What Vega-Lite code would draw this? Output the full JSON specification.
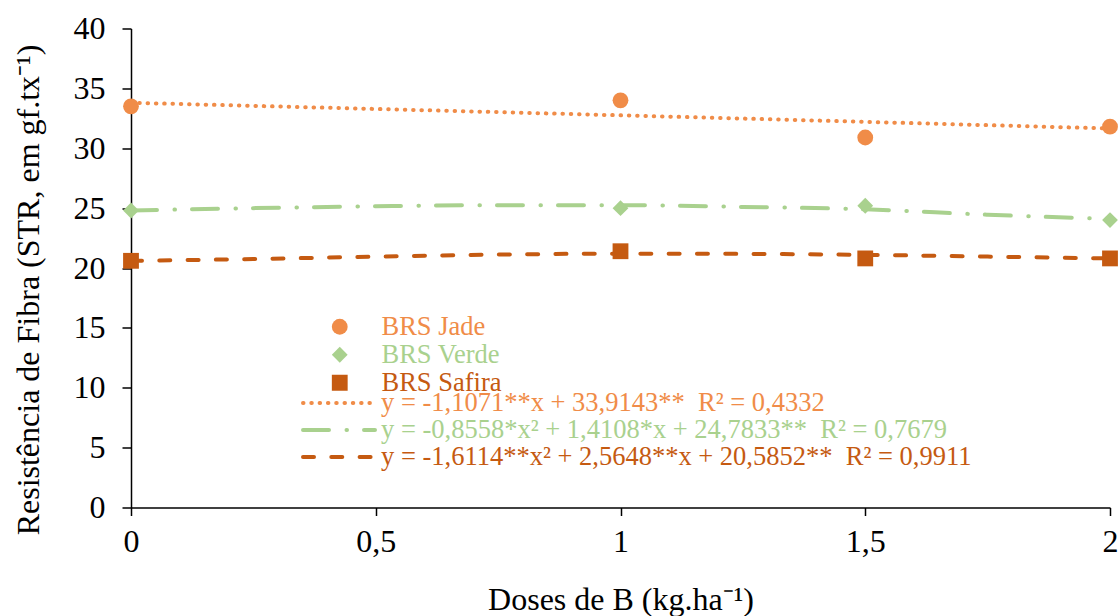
{
  "$schema": "https://vega.github.io/schema/vega-lite/v6.json",
  "width": 979,
  "height": 479,
  "autosize": "none",
  "padding": {"left": 131, "top": 28.5, "right": 10, "bottom": 108.5},
  "background": "white",
  "config": {
    "view": {"stroke": null},
    "font": "Liberation Serif",
    "axis": {
      "labelColor": "black",
      "titleColor": "black",
      "titleFontWeight": "normal",
      "domainColor": "black",
      "tickColor": "black",
      "domainWidth": 1.5,
      "tickWidth": 1.5,
      "grid": false
    },
    "legend": {
      "labelFont": "Liberation Serif",
      "labelFontSize": 26.5,
      "labelLimit": 1000
    }
  },
  "datasets": {
    "pts": [
      {"dose": 0, "str": 33.5, "cultivar": "BRS Jade"},
      {"dose": 1, "str": 34.0, "cultivar": "BRS Jade"},
      {"dose": 1.5, "str": 30.9, "cultivar": "BRS Jade"},
      {"dose": 2, "str": 31.8, "cultivar": "BRS Jade"},
      {"dose": 0, "str": 24.8, "cultivar": "BRS Verde"},
      {"dose": 1, "str": 25.0, "cultivar": "BRS Verde"},
      {"dose": 1.5, "str": 25.2, "cultivar": "BRS Verde"},
      {"dose": 2, "str": 24.0, "cultivar": "BRS Verde"},
      {"dose": 0, "str": 20.6, "cultivar": "BRS Safira"},
      {"dose": 1, "str": 21.4, "cultivar": "BRS Safira"},
      {"dose": 1.5, "str": 20.8, "cultivar": "BRS Safira"},
      {"dose": 2, "str": 20.8, "cultivar": "BRS Safira"}
    ],
    "fit": [
      {"dose": 0, "str": 33.8, "eq": "y = -1,1071**x + 33,9143** \u00a0R² = 0,4332"},
      {"dose": 1, "str": 32.75, "eq": "y = -1,1071**x + 33,9143** \u00a0R² = 0,4332"},
      {"dose": 2, "str": 31.65, "eq": "y = -1,1071**x + 33,9143** \u00a0R² = 0,4332"},
      {"dose": 0, "str": 24.8, "eq": "y = -0,8558*x² + 1,4108*x + 24,7833** \u00a0R² = 0,7679"},
      {"dose": 0.25, "str": 25.0, "eq": "y = -0,8558*x² + 1,4108*x + 24,7833** \u00a0R² = 0,7679"},
      {"dose": 0.5, "str": 25.15, "eq": "y = -0,8558*x² + 1,4108*x + 24,7833** \u00a0R² = 0,7679"},
      {"dose": 0.75, "str": 25.25, "eq": "y = -0,8558*x² + 1,4108*x + 24,7833** \u00a0R² = 0,7679"},
      {"dose": 1, "str": 25.25, "eq": "y = -0,8558*x² + 1,4108*x + 24,7833** \u00a0R² = 0,7679"},
      {"dose": 1.25, "str": 25.1, "eq": "y = -0,8558*x² + 1,4108*x + 24,7833** \u00a0R² = 0,7679"},
      {"dose": 1.5, "str": 24.9, "eq": "y = -0,8558*x² + 1,4108*x + 24,7833** \u00a0R² = 0,7679"},
      {"dose": 1.75, "str": 24.45, "eq": "y = -0,8558*x² + 1,4108*x + 24,7833** \u00a0R² = 0,7679"},
      {"dose": 2, "str": 24.1, "eq": "y = -0,8558*x² + 1,4108*x + 24,7833** \u00a0R² = 0,7679"},
      {"dose": 0, "str": 20.6, "eq": "y = -1,6114**x² + 2,5648**x + 20,5852** \u00a0R² = 0,9911"},
      {"dose": 0.25, "str": 20.75, "eq": "y = -1,6114**x² + 2,5648**x + 20,5852** \u00a0R² = 0,9911"},
      {"dose": 0.5, "str": 20.95, "eq": "y = -1,6114**x² + 2,5648**x + 20,5852** \u00a0R² = 0,9911"},
      {"dose": 0.75, "str": 21.12, "eq": "y = -1,6114**x² + 2,5648**x + 20,5852** \u00a0R² = 0,9911"},
      {"dose": 1, "str": 21.2, "eq": "y = -1,6114**x² + 2,5648**x + 20,5852** \u00a0R² = 0,9911"},
      {"dose": 1.25, "str": 21.18, "eq": "y = -1,6114**x² + 2,5648**x + 20,5852** \u00a0R² = 0,9911"},
      {"dose": 1.5, "str": 21.1, "eq": "y = -1,6114**x² + 2,5648**x + 20,5852** \u00a0R² = 0,9911"},
      {"dose": 1.75, "str": 20.95, "eq": "y = -1,6114**x² + 2,5648**x + 20,5852** \u00a0R² = 0,9911"},
      {"dose": 2, "str": 20.8, "eq": "y = -1,6114**x² + 2,5648**x + 20,5852** \u00a0R² = 0,9911"}
    ]
  },
  "encoding": {
    "x": {
      "field": "dose",
      "type": "quantitative",
      "scale": {"domain": [0, 2], "nice": false},
      "axis": {
        "values": [0, 0.5, 1, 1.5, 2],
        "title": "Doses de B (kg.ha⁻¹)",
        "labelExpr": "replace(format(datum.value, '~g'), '.', ',')",
        "labelFont": "Liberation Serif",
        "titleFont": "Liberation Serif",
        "labelFontSize": 32,
        "titleFontSize": 32,
        "tickSize": 8,
        "labelPadding": 11,
        "titlePadding": 27,
        "labelFlush": false
      }
    },
    "y": {
      "field": "str",
      "type": "quantitative",
      "scale": {"domain": [0, 40], "nice": false},
      "axis": {
        "values": [0, 5, 10, 15, 20, 25, 30, 35, 40],
        "title": "Resistência de Fibra (STR, em gf.tx⁻¹)",
        "labelFont": "Liberation Serif",
        "titleFont": "Liberation Serif",
        "labelFontSize": 32,
        "titleFontSize": 32,
        "tickSize": 9,
        "labelPadding": 17,
        "titlePadding": 28,
        "titleY": 261
      }
    }
  },
  "layer": [
    {
      "data": {"name": "fit"},
      "mark": {"type": "line", "interpolate": "monotone", "strokeWidth": 4, "strokeCap": "round"},
      "encoding": {
        "stroke": {
          "field": "eq",
          "type": "nominal",
          "scale": {
            "domain": [
              "y = -1,1071**x + 33,9143** \u00a0R² = 0,4332",
              "y = -0,8558*x² + 1,4108*x + 24,7833** \u00a0R² = 0,7679",
              "y = -1,6114**x² + 2,5648**x + 20,5852** \u00a0R² = 0,9911"
            ],
            "range": ["#F08C48", "#A9D18E", "#C55A11"]
          },
          "legend": {
            "orient": "none",
            "legendX": 170,
            "legendY": 361.5,
            "title": null,
            "padding": 0,
            "rowPadding": 0,
            "clipHeight": 26,
            "symbolType": "stroke",
            "symbolSize": 5184,
            "symbolStrokeWidth": 4,
            "labelOffset": 4,
            "encode": {
              "labels": {"update": {"fill": {"scale": "stroke", "field": "value"}}},
              "symbols": {"update": {"strokeCap": {"value": "round"}}}
            }
          }
        },
        "strokeDash": {
          "field": "eq",
          "type": "nominal",
          "scale": {
            "domain": [
              "y = -1,1071**x + 33,9143** \u00a0R² = 0,4332",
              "y = -0,8558*x² + 1,4108*x + 24,7833** \u00a0R² = 0,7679",
              "y = -1,6114**x² + 2,5648**x + 20,5852** \u00a0R² = 0,9911"
            ],
            "range": [[0.5, 7.8], [26, 17.5, 0.5, 17], [11, 17.3]]
          },
          "legend": {
            "orient": "none",
            "legendX": 170,
            "legendY": 361.5,
            "title": null,
            "padding": 0,
            "rowPadding": 0,
            "clipHeight": 26,
            "symbolType": "stroke",
            "symbolSize": 5184,
            "symbolStrokeWidth": 4,
            "labelOffset": 4,
            "encode": {
              "labels": {"update": {"fill": {"scale": "stroke", "field": "value"}}},
              "symbols": {"update": {"strokeCap": {"value": "round"}}}
            }
          }
        }
      }
    },
    {
      "data": {"name": "pts"},
      "mark": {"type": "point", "filled": true, "opacity": 1, "size": 250},
      "encoding": {
        "color": {
          "field": "cultivar",
          "type": "nominal",
          "scale": {"domain": ["BRS Jade", "BRS Verde", "BRS Safira"], "range": ["#F08C48", "#A9D18E", "#C55A11"]},
          "legend": {
            "orient": "none",
            "legendX": 195.5,
            "legendY": 285.5,
            "title": null,
            "padding": 0,
            "rowPadding": 0,
            "clipHeight": 25.5,
            "symbolSize": 250,
            "symbolStrokeWidth": 0,
            "symbolOpacity": 1,
            "labelOffset": 28.5,
            "encode": {"labels": {"update": {"fill": {"scale": "color", "field": "value"}}}}
          }
        },
        "shape": {
          "field": "cultivar",
          "type": "nominal",
          "scale": {"domain": ["BRS Jade", "BRS Verde", "BRS Safira"], "range": ["circle", "diamond", "square"]},
          "legend": {
            "orient": "none",
            "legendX": 195.5,
            "legendY": 285.5,
            "title": null,
            "padding": 0,
            "rowPadding": 0,
            "clipHeight": 25.5,
            "symbolSize": 250,
            "symbolStrokeWidth": 0,
            "symbolOpacity": 1,
            "labelOffset": 28.5,
            "encode": {"labels": {"update": {"fill": {"scale": "color", "field": "value"}}}}
          }
        }
      }
    }
  ]
}
